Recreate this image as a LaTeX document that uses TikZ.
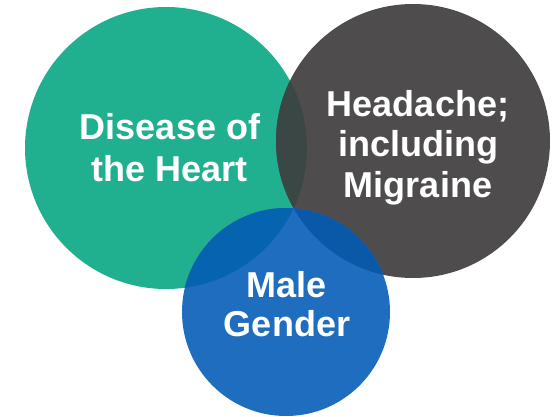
\documentclass[tikz,border=0pt]{standalone}
\usepackage{fontspec}
\setmainfont{Liberation Sans}
\definecolor{cgreen}{RGB}{33,176,143}
\definecolor{cgray}{RGB}{78,76,77}
\definecolor{cblue}{RGB}{30,109,191}
\definecolor{cgg}{RGB}{59,71,68}
\definecolor{cbg}{RGB}{5,99,176}
\definecolor{cbgr}{RGB}{10,89,169}
\definecolor{cbgg}{RGB}{8,78,150}
\tikzset{
  venn/.style={circle, inner sep=0pt, draw=none},
  lbl/.style={anchor=base, text=white, inner sep=0pt,
    font=\fontsize{36}{41}\selectfont\bfseries}
}
\begin{document}
\begin{tikzpicture}[x=1pt,y=-1pt]
\useasboundingbox (0,0) rectangle (557,417);
% circles
\node[venn, fill=cgreen, minimum size=282pt] (heart) at (166,148) {};
\node[venn, fill=cgray, minimum size=274pt] (head) at (413,141) {};
\node[venn, fill=cblue, minimum size=208pt] (male) at (286,312) {};
% overlaps
\begin{scope}
  \clip (heart.center) circle[radius=141pt];
  \fill[cgg] (head.center) circle[radius=137pt];
  \fill[cbg] (male.center) circle[radius=104pt];
  \clip (head.center) circle[radius=137pt];
  \fill[cbgg] (male.center) circle[radius=104pt];
\end{scope}
\begin{scope}
  \clip (head.center) circle[radius=137pt];
  \clip (male.center) circle[radius=104pt];
  \path[clip] (0,0) rectangle (557,417) (heart.center) circle[radius=141pt];
\end{scope}
\begin{scope}[even odd rule]
  \clip (head.center) circle[radius=137pt];
  \clip (heart.center) circle[radius=141pt] (0,0) rectangle (557,417);
  \fill[cbgr] (male.center) circle[radius=104pt];
\end{scope}
% labels
\node[lbl] (h1) at (170,140) {Disease of};
\node[lbl] (h2) at (170,182) {the Heart};
\node[lbl] (m1) at (418,117) {Headache;};
\node[lbl] (m2) at (418,157) {including};
\node[lbl] (m3) at (418,197) {Migraine};
\node[lbl] (g1) at (287,297) {Male};
\node[lbl] (g2) at (287,336) {Gender};
\end{tikzpicture}
\end{document}
